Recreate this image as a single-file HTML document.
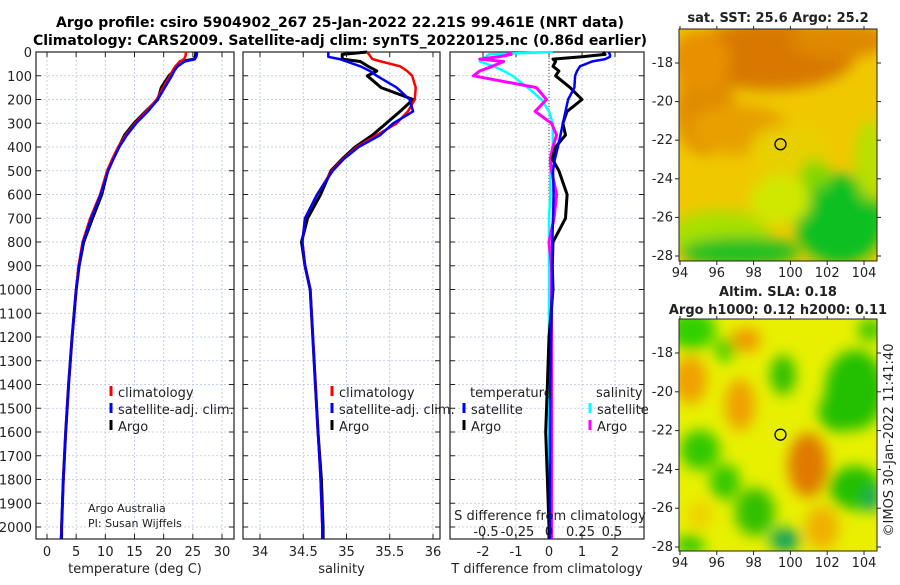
<!DOCTYPE html>
<html><head><meta charset="utf-8"><style>
body{margin:0;background:#fff}
svg text{font-family:"DejaVu Sans","Liberation Sans",sans-serif}
</style></head><body>
<svg id="s" width="900" height="580" xmlns="http://www.w3.org/2000/svg">
<defs>
<filter id="b1" x="-50%" y="-50%" width="200%" height="200%"><feGaussianBlur stdDeviation="7"/></filter>
<clipPath id="cm1"><rect x="679" y="29" width="198" height="232"/></clipPath>
<clipPath id="cm2"><rect x="679" y="319" width="198" height="232"/></clipPath>
</defs>
<text x="340" y="27" text-anchor="middle" font-size="14" font-weight="bold">Argo profile: csiro 5904902_267 25-Jan-2022 22.21S 99.461E (NRT data)</text>
<text x="340" y="45" text-anchor="middle" font-size="14" font-weight="bold">Climatology: CARS2009. Satellite-adj clim: synTS_20220125.nc (0.86d earlier)</text>
</svg>
<script>
const depths=[0,10,20,30,40,60,80,100,150,200,250,300,350,400,450,500,600,700,800,900,1000,1200,1400,1600,1800,2000,2050];
const tClim=[23.8,23.8,23.7,23.5,22.8,22.0,21.5,21.1,19.9,18.8,17.0,15.1,13.5,12.2,11.2,10.3,9.1,7.4,6.1,5.4,5.0,4.3,3.7,3.2,2.8,2.5,2.4];
const tSat=[25.7,25.7,25.6,25.3,23.6,22.4,21.8,21.4,20.2,19.0,17.3,15.3,13.7,12.4,11.4,10.5,9.2,7.6,6.2,5.5,5.0,4.3,3.7,3.2,2.8,2.5,2.4];
const tArgo=[25.5,25.5,25.4,25.3,22.8,22.2,21.7,20.9,19.6,19.0,16.9,14.9,13.3,12.3,11.3,10.4,9.4,7.8,6.3,5.5,5.0,4.3,3.7,3.2,2.8,2.5,2.5];
const sClim=[35.24,35.26,35.28,35.30,35.40,35.62,35.70,35.76,35.80,35.79,35.71,35.58,35.35,35.12,34.96,34.83,34.66,34.52,34.49,34.52,34.58,34.61,34.64,34.67,34.70,34.72,34.72];
const sSat=[34.79,34.79,34.79,34.92,35.00,35.16,35.27,35.35,35.58,35.73,35.77,35.54,35.39,35.14,34.97,34.84,34.66,34.52,34.49,34.52,34.58,34.61,34.64,34.67,34.70,34.72,34.72];
const sArgo=[35.24,34.95,34.95,34.95,35.16,35.25,35.35,35.24,35.40,35.77,35.62,35.46,35.30,35.10,34.95,34.82,34.70,34.55,34.48,34.52,34.58,34.61,34.64,34.67,34.71,34.73,34.73];
const dtSat=[1.8,1.85,1.85,1.7,1.3,0.94,0.85,0.79,0.77,0.58,0.5,0.42,0.35,0.27,0.18,0.12,0.14,0.12,0.1,0.1,0.1,0.06,0.04,0.03,0.03,0.03,0.03];
const dtArgo=[1.64,1.7,1.0,0.12,0.2,0.12,0.3,0.2,0.64,1.0,0.55,0.42,0.5,0.2,0.1,0.3,0.55,0.5,0.12,0.1,0.12,0.0,-0.05,-0.1,-0.05,0.0,0.0];
const dsSat=[0.03,-0.48,-0.50,-0.53,-0.55,-0.44,-0.36,-0.29,-0.17,-0.06,0.0,0.03,0.03,0.03,0.02,0.01,0.01,0.0,0.0,0.0,0.0,0.0,0.0,0.0,0.0,0.0,0.0];
const dsArgo=[-0.33,-0.30,-0.40,-0.55,-0.36,-0.45,-0.55,-0.60,-0.10,-0.02,-0.11,0.02,0.06,0.03,0.01,0.02,0.06,0.04,0.0,0.02,0.02,0.02,0.02,0.02,0.02,0.02,0.02];
const depthTicks=[0,100,200,300,400,500,600,700,800,900,1000,1100,1200,1300,1400,1500,1600,1700,1800,1900,2000];
const tTicks=[0,5,10,15,20,25,30];
const sTicks=[34,34.5,35,35.5,36];
const sTickLabels=["34","34.5","35","35.5","36"];
const dTicks=[-2,-1,0,1,2];
const dsTicks=[-0.5,-0.25,0,0.25,0.5];
const latTicks=[-18,-20,-22,-24,-26,-28];
const lonTicks=[94,96,98,100,102,104];

const svg=document.getElementById('s');const NS='http://www.w3.org/2000/svg';
function el(tag,attrs,parent){const e=document.createElementNS(NS,tag);for(const k in attrs)e.setAttribute(k,attrs[k]);(parent||svg).appendChild(e);return e;}
function txt(x,y,s,size,anchor,parent){const t=el('text',{x:x,y:y,'font-size':size,'text-anchor':anchor||'middle',fill:'#222'},parent);t.textContent=s;return t;}
const Y=d=>52+0.2375*d;
const panels=[
 {x0:36,x1:234,f:v=>47+5.833*v,ticks:tTicks,labels:tTicks.map(String),label:'temperature (deg C)',name:'temperature-panel'},
 {x0:243,x1:440,f:v=>260+86.5*(v-34),ticks:sTicks,labels:sTickLabels,label:'salinity',name:'salinity-panel'},
 {x0:450,x1:644,f:v=>549+33*v,ticks:dTicks,labels:dTicks.map(String),label:'T difference from climatology',name:'difference-panel'}];
panels.forEach((p,i)=>{
 const g=el('g',{});
 
 
 depthTicks.forEach(d=>{el('line',{x1:p.x0,x2:p.x1,y1:Y(d),y2:Y(d),stroke:'#b8c4e0','stroke-width':0.8,'stroke-dasharray':'2,2'},g);
  el('line',{x1:p.x0,x2:p.x0+5,y1:Y(d),y2:Y(d),stroke:'#222'},g);el('line',{x1:p.x1,x2:p.x1-5,y1:Y(d),y2:Y(d),stroke:'#222'},g);
  if(i==0)txt(32,Y(d)+5,String(d),13,'end',g);});
 p.ticks.forEach((v,k)=>{const x=p.f(v);el('line',{x1:x,x2:x,y1:52,y2:539,stroke:'#b8c4e0','stroke-width':0.8,'stroke-dasharray':'2,2'},g);
  el('line',{x1:x,x2:x,y1:539,y2:534,stroke:'#222'},g);el('line',{x1:x,x2:x,y1:52,y2:57,stroke:'#222'},g);
  txt(x,556,p.labels[k],13,'middle',g);});
 el('rect',{x:p.x0,y:52,width:p.x1-p.x0,height:487,fill:'none',stroke:'#222','stroke-width':1.2},g);
 const xl=txt((p.x0+p.x1)/2,573,p.label,13,'middle',g);
 
 
 p.g=g;});
el('line',{x1:549,x2:549,y1:52,y2:539,stroke:'#444','stroke-width':1,'stroke-dasharray':'1,2'});
function line(vals,f,color,w,name){const pts=depths.map((d,k)=>f(vals[k]).toFixed(1)+','+Y(d).toFixed(1)).join(' ');
 const pl=el('polyline',{points:pts,fill:'none',stroke:color,'stroke-width':w,'stroke-linejoin':'round'});
 
 }
const P=panels;
line(tArgo,P[0].f,'#000',3,'temperature-argo-line');
line(tClim,P[0].f,'#f00',2.5,'temperature-climatology-line');
line(tSat,P[0].f,'#00f',2.5,'temperature-satellite-line');
line(sArgo,P[1].f,'#000',3,'salinity-argo-line');
line(sClim,P[1].f,'#f00',2.5,'salinity-climatology-line');
line(sSat,P[1].f,'#00f',2.5,'salinity-satellite-line');
const fs=v=>549+126*v;
line(dsSat,fs,'#0ff',2.5,'sdiff-satellite-line');
line(dsArgo,fs,'#f0f',3,'sdiff-argo-line');
line(dtArgo,P[2].f,'#000',3,'tdiff-argo-line');
line(dtSat,P[2].f,'#00f',2.5,'tdiff-satellite-line');
function leg(x,y,color,label,name){const g=el('g',{});
 
 
 el('line',{x1:x,x2:x,y1:y-11,y2:y-1,stroke:color,'stroke-width':3},g);txt(x+7,y,label,13,'start',g);}
leg(111,397,'#f00','climatology','legend-temp-climatology');
leg(111,414,'#00f','satellite-adj. clim.','legend-temp-satellite');
leg(111,431,'#000','Argo','legend-temp-argo');
leg(332,397,'#f00','climatology','legend-sal-climatology');
leg(332,414,'#00f','satellite-adj. clim.','legend-sal-satellite');
leg(332,431,'#000','Argo','legend-sal-argo');
txt(470,397,'temperature',13,'start');txt(596,397,'salinity',13,'start');
leg(464,414,'#00f','satellite','legend-tdiff-satellite');
leg(464,431,'#000','Argo','legend-tdiff-argo');
leg(590,414,'#0ff','satellite','legend-sdiff-satellite');
leg(590,431,'#f0f','Argo','legend-sdiff-argo');
txt(88,512,'Argo Australia',11,'start');txt(88,527,'PI: Susan Wijffels',11,'start');
txt(550,520,'S difference from climatology',13,'middle');
dsTicks.forEach(v=>txt(fs(v),536,String(v),13,'middle'));
const LX=v=>680+18.4*(v-94);
function mapFrame(top,bot,lat18,lat28,name){
 const LY=v=>lat18+(lat28-lat18)*(-18-v)/10;
 const g=el('g',{});
 
 
 el('rect',{x:679,y:top,width:198,height:bot-top,fill:'none',stroke:'#222','stroke-width':1},g);
 latTicks.forEach(v=>{const y=LY(v);el('line',{x1:877,x2:881,y1:y,y2:y,stroke:'#222'},g);el('line',{x1:679,x2:675,y1:y,y2:y,stroke:'#222'},g);txt(673,y+4,String(v),13,'end',g);});
 lonTicks.forEach(v=>{const x=LX(v);el('line',{x1:x,x2:x,y1:bot,y2:bot+4,stroke:'#222'},g);el('line',{x1:x,x2:x,y1:top,y2:top-3,stroke:'#222'},g);txt(x,bot+16,String(v),13,'middle',g);});
 el('circle',{cx:LX(99.461),cy:LY(-22.21),r:5.5,fill:'none',stroke:'#000','stroke-width':1.3},g);
 return g;}
const m1=el('g',{'clip-path':'url(#cm1)'});


el('rect',{x:679,y:29,width:198,height:232,fill:'#f0c800'},m1);
const fb=el('g',{filter:'url(#b1)'},m1);
[[770,55,85,35,'#d87800'],[705,110,30,45,'#e08c00'],[840,40,50,18,'#e08800'],[740,130,50,25,'#e8a000'],[700,60,30,30,'#e89000'],
 [790,150,40,25,'#e8d000'],[720,235,50,25,'#a8e000'],[840,220,45,45,'#10c020'],[740,252,60,15,'#20c020'],[780,200,30,25,'#d0e800'],[870,160,15,40,'#b8e000'],[815,175,15,15,'#80d800']].forEach(a=>el('ellipse',{cx:a[0],cy:a[1],rx:a[2],ry:a[3],fill:a[4]},fb));
const m2=el('g',{'clip-path':'url(#cm2)'});


el('rect',{x:679,y:319,width:198,height:232,fill:'#e8f000'},m2);
const fb2=el('g',{filter:'url(#b1)'},m2);
[[692,330,24,20,'#30d000'],[725,350,10,12,'#40d000'],[783,375,13,20,'#30c000'],[855,390,30,40,'#20c000'],[840,412,22,20,'#20c000'],[870,330,12,12,'#40c800'],
 [700,450,20,20,'#30c800'],[725,482,15,18,'#30c800'],[755,512,20,24,'#30c000'],[785,540,15,12,'#10a060'],[855,488,26,22,'#20c000'],[872,500,8,12,'#10a060'],[690,545,15,10,'#30c800'],
 [690,380,17,24,'#f0a000'],[746,340,15,12,'#f09800'],[740,405,15,26,'#f0a000'],[808,465,20,32,'#e07800'],[822,528,17,22,'#f0b000'],[700,515,12,14,'#f0d000']].forEach(a=>el('ellipse',{cx:a[0],cy:a[1],rx:a[2],ry:a[3],fill:a[4]},fb2));
mapFrame(29,261,63,256,'sst-map-axes');
mapFrame(319,551,353,547,'sla-map-axes');
txt(778,22,'sat. SST: 25.6 Argo: 25.2',13,'middle').setAttribute('font-weight','bold');
txt(778,296,'Altim. SLA: 0.18',13,'middle').setAttribute('font-weight','bold');
txt(778,314,'Argo h1000: 0.12 h2000: 0.11',13,'middle').setAttribute('font-weight','bold');
const c=txt(0,0,'©IMOS 30-Jan-2022 11:41:40',13,'middle');c.setAttribute('transform','translate(893,440) rotate(-90)');


</script>
</body></html>
